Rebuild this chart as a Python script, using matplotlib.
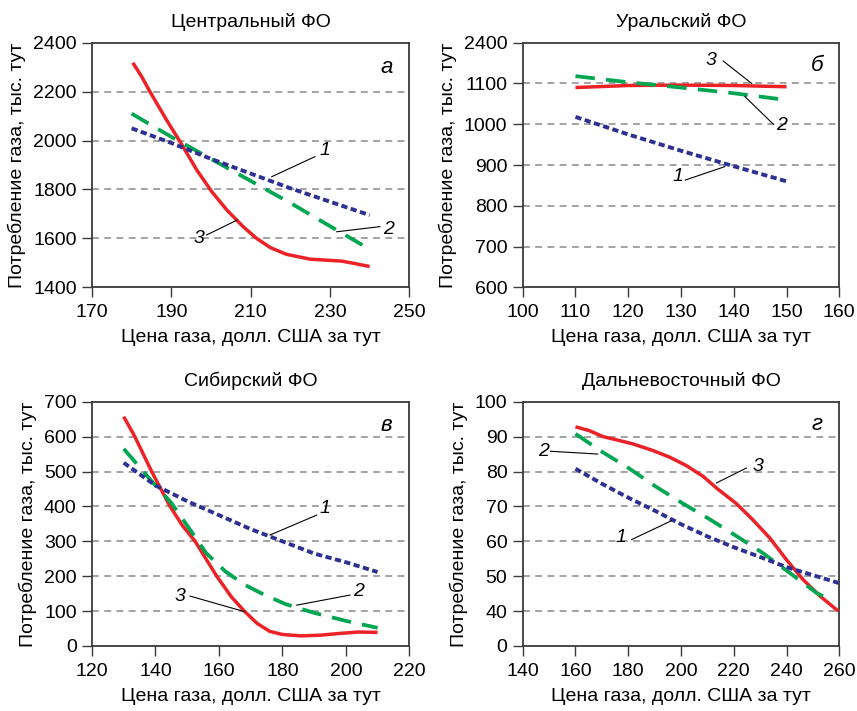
import matplotlib
matplotlib.use("Agg")
import matplotlib.pyplot as plt

plt.rcParams['font.family'] = ['Liberation Sans', 'DejaVu Sans']

# ---------------- data ----------------
# Panel а — Центральный ФО
a_x1 = [180, 190, 200, 210, 220, 230, 240]
a_y1 = [2050, 1990, 1925, 1865, 1805, 1750, 1695]
a_x2 = [180, 190, 200, 210, 220, 230, 239]
a_y2 = [2110, 2015, 1925, 1835, 1745, 1650, 1565]
a_x3 = [180.3, 182.5, 184.6, 188.8, 192.4, 196.4, 200.2, 204, 208.1, 211.5, 215, 219, 225, 230, 233, 236, 240]
a_y3 = [2318, 2262, 2200, 2084, 1990, 1880, 1791, 1716, 1648, 1600, 1562, 1535, 1515, 1510, 1507, 1498, 1485]

# Panel б — Уральский ФО
b_x1 = [110, 120, 130, 140, 150]
b_y1 = [1018, 975, 935, 897, 860]
b_x2 = [110, 120, 130, 140, 148.5]
b_y2 = [1118, 1103, 1090, 1076, 1062]
b_x3 = [110, 120, 130, 140, 150]
b_y3 = [1090, 1095, 1096, 1095, 1092]

# Panel в — Сибирский ФО
c_x1 = [130, 140, 150, 160, 170, 180, 190, 200, 210]
c_y1 = [525, 460, 415, 375, 335, 300, 265, 240, 212]
c_x2 = [130, 140, 145, 151, 156, 162, 168, 174, 181, 190, 200, 210]
c_y2 = [565, 460, 410, 332, 266, 214, 176, 148, 120, 95, 72, 52]
c_x3 = [130, 133.5, 138.8, 144.6, 148.5, 152.5, 159.3, 164, 168, 172, 176, 180, 186, 192, 198, 204, 210]
c_y3 = [657, 600, 500, 400, 345, 300, 200, 140, 100, 65, 42, 33, 29, 31, 36, 40, 39]

# Panel г — Дальневосточный ФО
d_x1 = [160, 170, 180, 190, 200, 210, 220, 230, 240, 250, 260]
d_y1 = [80.8, 76.5, 72.5, 68.8, 64.9, 61.4, 58.3, 55.5, 52.6, 50.3, 48.0]
d_x2 = [160, 170.4, 180.5, 190.6, 200.8, 210.9, 221, 231.1, 241.3, 251.4, 257.7]
d_y2 = [90.8, 85.5, 80.8, 75.6, 70.8, 66.3, 61.5, 56.6, 50.9, 45.2, 42.8]
d_x3 = [160, 165.3, 170.4, 175.4, 181.8, 189.4, 195.7, 202, 208.4, 213.7, 221, 227.3, 233.7, 240, 246.3, 252.7, 259.6]
d_y3 = [92.8, 91.7, 90.0, 89.1, 87.9, 86.0, 84.1, 81.7, 78.6, 75.1, 70.8, 66.1, 60.9, 54.7, 49.0, 44.3, 40.0]

titles = ["Центральный ФО", "Уральский ФО", "Сибирский ФО", "Дальневосточный ФО"]
letters = ["а", "б", "в", "г"]

a_xticks = [170, 190, 210, 230, 250]
a_yticks = [1400, 1600, 1800, 2000, 2200, 2400]
b_xticks = [100, 110, 120, 130, 140, 150, 160]
b_ytick_pos = [600, 700, 800, 900, 1000, 1100, 1200]
b_ytick_lab = ["600", "700", "800", "900", "1000", "1100", "2400"]
c_xticks = [120, 140, 160, 180, 200, 220]
c_yticks = [0, 100, 200, 300, 400, 500, 600, 700]
d_xticks = [140, 160, 180, 200, 220, 240, 260]
d_ytick_pos = [30, 40, 50, 60, 70, 80, 90, 100]
d_ytick_lab = ["0", "40", "50", "60", "70", "80", "90", "100"]

xlabel = "Цена газа, долл. США за тут"
ylabel = "Потребление газа, тыс. тут"

RED = "#ec2227"
GREEN = "#00a651"
BLUE = "#2e3192"
FS = 14

W, H = 857, 711
fig = plt.figure(figsize=(W / 100, H / 100), dpi=100)

def make_ax(left_px, top_px, right_px, bottom_px):
    return fig.add_axes([left_px / W, 1 - bottom_px / H, (right_px - left_px) / W, (bottom_px - top_px) / H])

axes = [
    make_ax(92, 42.7, 409.3, 287.3),
    make_ax(522.7, 42.7, 839.3, 287.3),
    make_ax(92, 401.7, 409.3, 646),
    make_ax(522.7, 401.7, 839.3, 646),
]

def style(ax, title, xlim, xticks, ylim, ytick_pos, ytick_lab, letter, letter_xy):
    ax.set_xlim(*xlim)
    ax.set_ylim(*ylim)
    ax.set_xticks(xticks)
    ax.set_xticklabels([str(t) for t in xticks])
    ax.set_yticks(ytick_pos)
    ax.set_yticklabels(ytick_lab)
    for yv in ytick_pos[1:-1]:
        ax.axhline(yv, color="#8a8a8a", lw=1.1, ls=(0, (4.5, 3.5)), zorder=1)
    for s in ax.spines.values():
        s.set_color("#3a3a3a")
        s.set_linewidth(1.3)
    ax.tick_params(direction="out", length=7, width=1.0, color="#3a3a3a",
                   labelsize=FS, pad=4)
    ax.tick_params(axis="x", pad=5)
    ax.set_title(title, fontsize=FS, pad=11)
    ax.set_xlabel(xlabel, fontsize=FS, labelpad=6)
    ax.set_ylabel(ylabel, fontsize=FS, labelpad=5)
    ax.text(letter_xy[0], letter_xy[1], letter, fontsize=16, style="italic",
            ha="center", va="center")

def curves(ax, x1, y1, x2, y2, x3, y3):
    ax.plot(x3, y3, color=RED, lw=2.5, solid_capstyle="butt", zorder=3)
    ax.plot(x2, y2, color=GREEN, lw=2.7, ls=(0, (5.2, 3.0)), zorder=4)
    ax.plot(x1, y1, color=BLUE, lw=2.8, ls=(0, (1.6, 0.9)), zorder=5)

def label(ax, txt, txy, p0, p1):
    ax.text(txy[0], txy[1], txt, fontsize=FS, style="italic", ha="center", va="center", zorder=6)
    ax.plot([p0[0], p1[0]], [p0[1], p1[1]], color="black", lw=0.8, zorder=6)

# а
ax = axes[0]
curves(ax, a_x1, a_y1, a_x2, a_y2, a_x3, a_y3)
style(ax, titles[0], (170, 250), a_xticks, (1400, 2400), a_yticks,
      [str(t) for t in a_yticks], letters[0], (244.3, 2300))
label(ax, "1", (228.7, 1961), (226.2, 1934), (215.3, 1852))
label(ax, "2", (244.7, 1637), (242.6, 1648), (231.7, 1627))
label(ax, "3", (197.0, 1600), (198.9, 1614), (206.6, 1675))

# б
ax = axes[1]
curves(ax, b_x1, b_y1, b_x2, b_y2, b_x3, b_y3)
style(ax, titles[1], (100, 160), b_xticks, (600, 1200), b_ytick_pos,
      b_ytick_lab, letters[1], (155.7, 1145))
label(ax, "3", (135.6, 1157), (138.0, 1155), (143.4, 1100))
label(ax, "2", (149.1, 996), (147.5, 1000), (142.1, 1068))
label(ax, "1", (129.5, 871), (130.8, 863), (138.3, 896))

# в
ax = axes[2]
curves(ax, c_x1, c_y1, c_x2, c_y2, c_x3, c_y3)
style(ax, titles[2], (120, 220), c_xticks, (0, 700), c_yticks,
      [str(t) for t in c_yticks], letters[2], (212.9, 633))
label(ax, "1", (193.4, 394), (190.8, 375), (176.1, 318))
label(ax, "2", (204.0, 156), (201.3, 146), (184.5, 117))
label(ax, "3", (147.7, 141), (150.9, 143), (168.2, 98))

# г
ax = axes[3]
curves(ax, d_x1, d_y1, d_x2, d_y2, d_x3, d_y3)
style(ax, titles[3], (140, 260), d_xticks, (30, 100), d_ytick_pos,
      d_ytick_lab, letters[3], (251.4, 93.4))
label(ax, "2", (147.8, 85.8), (150.5, 85.8), (168.4, 85.0))
label(ax, "1", (177.2, 61.0), (181.3, 60.5), (196.4, 65.9))
label(ax, "3", (229.3, 81.5), (224.8, 81.0), (213.4, 76.7))

fig.savefig("out.png", dpi=100)
